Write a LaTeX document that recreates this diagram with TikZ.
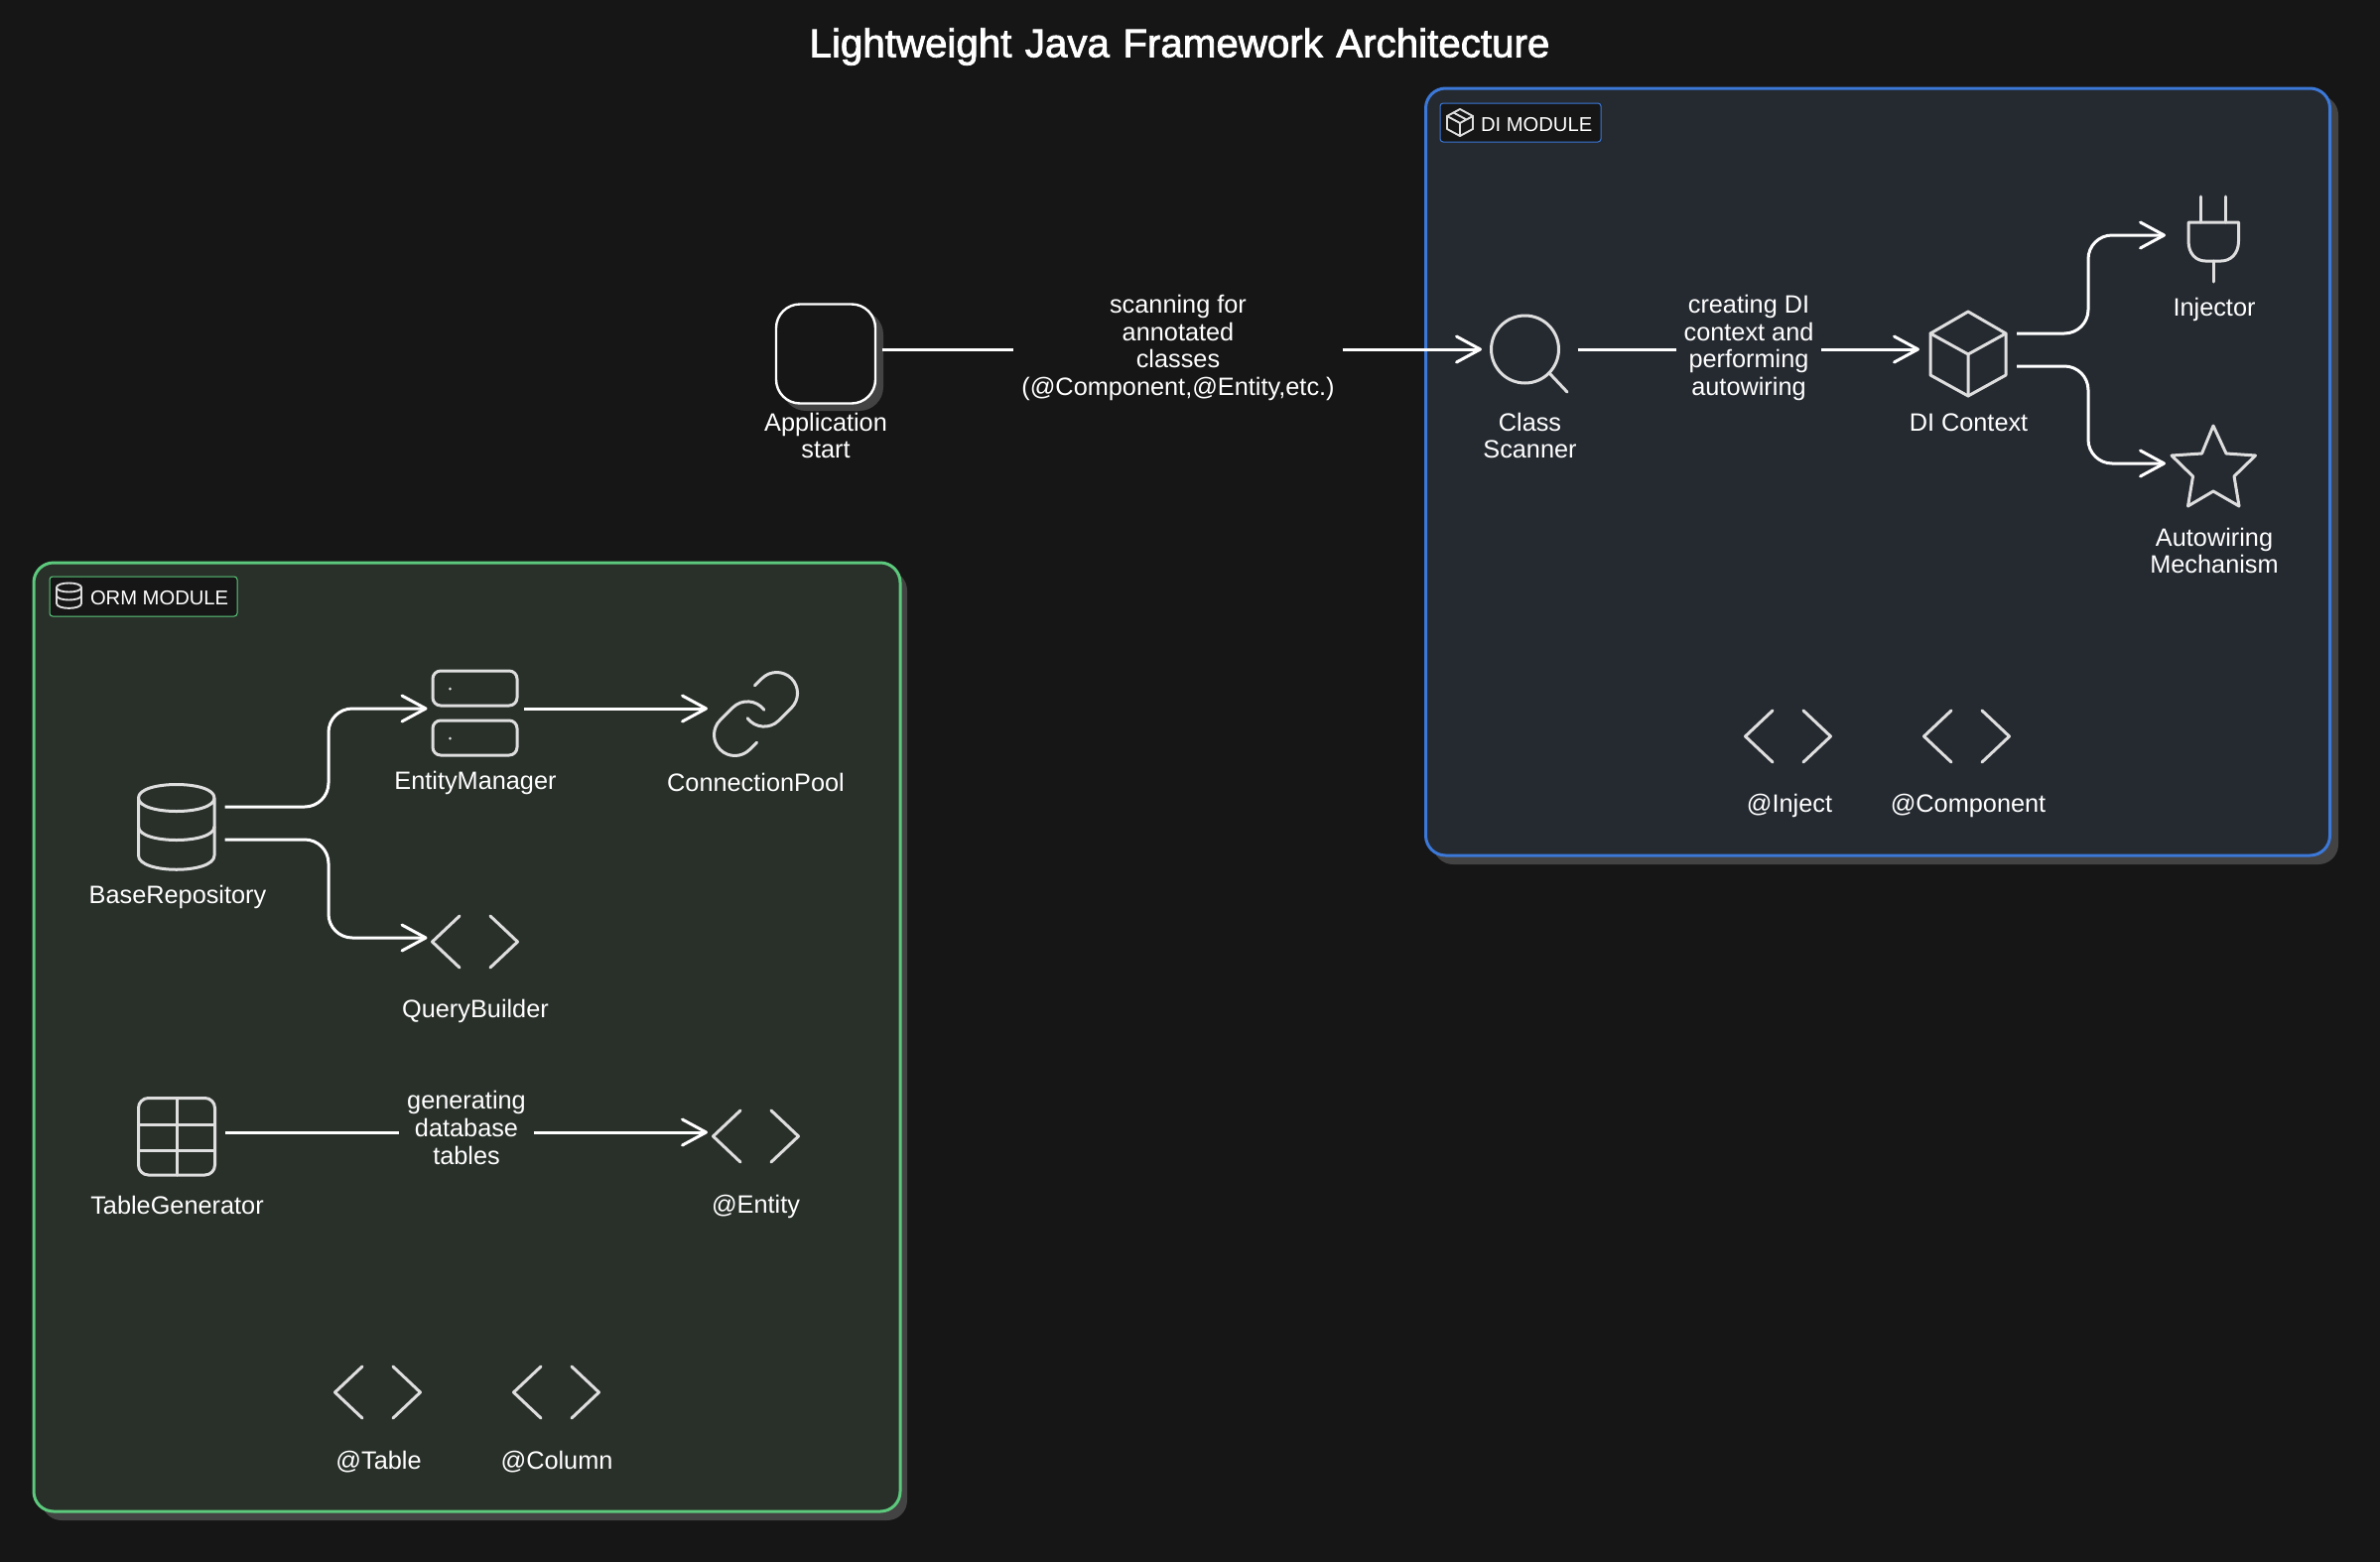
\documentclass[tikz,border=0pt]{standalone}
\usepackage{fontspec}
\setmainfont{Liberation Sans}
\newfontfamily\titlefont[FakeBold=2,WordSpace=1.2]{Liberation Sans}
\usetikzlibrary{arrows.meta}
\definecolor{bgc}{HTML}{161616}
\definecolor{shadowc}{HTML}{434343}
\definecolor{difill}{HTML}{252A31}
\definecolor{ormfill}{HTML}{29302A}
\definecolor{blueb}{HTML}{3B78D8}
\definecolor{greenb}{HTML}{5CC97C}
\definecolor{iconc}{HTML}{DEDEDE}
\tikzset{
  x=1pt,y=-1pt,
  every node/.style={inner sep=0pt,outer sep=0pt},
  txt/.style={text=white,align=center,font=\fontsize{25.3}{27.8}\selectfont},
  edgelab/.style={txt,inner xsep=8pt},
  titletxt/.style={text=white,font=\titlefont\fontsize{40.3}{46}\selectfont},
  grouptxt/.style={text=white,font=\fontsize{20.2}{24}\selectfont},
  iconbox/.style={minimum width=#1,minimum height=#1},
  icon/.style={draw=iconc,line width=3pt,line cap=round,line join=round},
  smallicon/.style={draw=iconc,line width=1.9pt,line cap=round,line join=round},
  conn/.style={draw=white,line width=3pt},
  arrowed/.style={conn,-{Straight Barb[length=24pt,width=26pt,line width=3pt,round]}},
  turn/.style={rounded corners=24pt},
  groupshadow/.style={fill=shadowc,rounded corners=20pt},
  groupbox/.style={line width=3pt,rounded corners=20pt},
  tag/.style={fill=bgc,line width=1pt,rounded corners=3pt},
}
\newcommand{\brackets}[3]{% name, x, y
  \node[iconbox=88pt] (#1) at (#2,#3) {};
  \draw[icon] (#2-15.5,#3-26) -- (#2-43,#3) -- (#2-15.5,#3+26);
  \draw[icon] (#2+15.5,#3-26) -- (#2+43,#3) -- (#2+15.5,#3+26);
}
\begin{document}
\begin{tikzpicture}
\fill[bgc] (0,0) rectangle (2398,1574);
\useasboundingbox (0,0) rectangle (2398,1574);

% group boxes
\fill[groupshadow] (1444,96) rectangle (2356,871);
\draw[groupbox,draw=blueb,fill=difill] (1436.5,89) rectangle (2347.5,862);
\fill[groupshadow] (42,575) rectangle (914,1532);
\draw[groupbox,draw=greenb,fill=ormfill] (34,567) rectangle (907,1523);

% group tags
\draw[tag,draw=blueb] (1451,104) rectangle (1613,143);
\node[grouptxt,anchor=base west] (ditag) at (1492,132) {DI MODULE};
\draw[smallicon] (1471,110) -- (1484,117) -- (1484,130) -- (1471,137) -- (1458,130) -- (1458,117) -- cycle;
\draw[smallicon] (1458,117) -- (1471,124) -- (1484,117) (1471,124) -- (1471,137) (1464.5,113.5) -- (1477.5,120.5);
\draw[tag,draw=greenb] (50,581) rectangle (239,621);
\node[grouptxt,anchor=base west] (ormtag) at (91,609) {ORM MODULE};
\draw[smallicon] (57,592) .. controls (57,586) and (82,586) .. (82,592) .. controls (82,598) and (57,598) .. (57,592) -- (57,608) .. controls (57,614.5) and (82,614.5) .. (82,608) -- (82,592);
\draw[smallicon] (57,600) .. controls (57,606) and (82,606) .. (82,600);

% title
\node[titletxt,anchor=base] (title) at (1188.5,57.5) {Lightweight Java Framework Architecture};

% application
\fill[shadowc,rounded corners=24pt] (788,313) rectangle (890,414);
\node[draw=white,fill=bgc,line width=2.4pt,rounded corners=24pt,minimum width=100pt,minimum height=100pt] (app) at (832,356.5) {};
\node[txt] (applab) at (832,439) {Application\\start};

% scanner
\node[iconbox=68pt] (scan) at (1536.5,352) {};
\draw[icon] (1536.5,352) circle[radius=34pt];
\draw[icon] (1562,377) -- (1579,395);
\node[txt] (scanlab) at (1541.5,439) {Class\\Scanner};

% DI context
\node[iconbox=76pt] (ctx) at (1983,357) {};
\draw[icon] (1983,314) -- (2021,336) -- (2021,378) -- (1983,399) -- (1945,378) -- (1945,336) -- cycle;
\draw[icon] (1945,336) -- (1983,357) -- (2021,336) (1983,357) -- (1983,399);
\node[txt] (ctxlab) at (1983.5,426) {DI Context};

% injector
\node[iconbox=50pt] (plug) at (2230,240) {};
\draw[icon] (2217.5,198) -- (2217.5,224) (2242.5,198) -- (2242.5,224);
\draw[icon] (2205,224) -- (2205,243) .. controls (2205,256) and (2213,263) .. (2222,263) -- (2238,263) .. controls (2247,263) and (2255.5,256) .. (2255.5,243) -- (2255.5,224) -- cycle;
\draw[icon] (2230,263) -- (2230,284);
\node[txt] (pluglab) at (2231,311.5) {Injector};

% autowiring
\node[iconbox=84pt] (star) at (2230,467) {};
\draw[icon] (2230,429) -- (2243,457) -- (2272.5,459) -- (2251,480) -- (2256,510) -- (2230,495) -- (2204.5,510) -- (2209.5,480) -- (2188,459) -- (2218.5,457) -- cycle;
\node[txt] (starlab) at (2231,555) {Autowiring\\Mechanism};

% DI annotations
\brackets{inject}{1801.5}{742}
\node[txt] (injectlab) at (1803,812) {@Inject};
\brackets{component}{1981.5}{742}
\node[txt] (componentlab) at (1983,812) {@Component};

% base repository
\node[iconbox=77pt] (repo) at (178,830) {};
\draw[icon] (139.5,804) .. controls (139.5,786) and (216,786) .. (216,804) .. controls (216,822) and (139.5,822) .. (139.5,804) -- (139.5,862) .. controls (139.5,881) and (216,881) .. (216,862) -- (216,804);
\draw[icon] (139.5,833) .. controls (139.5,851) and (216,851) .. (216,833);
\node[txt] (repolab) at (179,904) {BaseRepository};

% entity manager
\node[minimum width=86pt,minimum height=86pt] (em) at (478.5,718.5) {};
\draw[icon,rounded corners=8pt] (436,676) rectangle (521,711);
\draw[icon,rounded corners=8pt] (436,726) rectangle (521,761);
\fill[iconc] (453.5,694) circle[radius=1.5pt] (453.5,744) circle[radius=1.5pt];
\node[txt] (emlab) at (479,789) {EntityManager};

% connection pool
\node[iconbox=86pt] (pool) at (761.5,719) {};
\begin{scope}[shift={(761.5,719.5)},x=4.2pt,y=-4.2pt]
\draw[icon] (-2,1) .. controls (-0.18,3.43) and (3.39,3.69) .. (5.54,1.54) -- (8.54,-1.46) .. controls (10.49,-3.41) and (10.49,-6.59) .. (8.54,-8.54) .. controls (6.59,-10.49) and (3.42,-10.48) .. (1.47,-8.53) -- (-0.25,-6.82);
\draw[icon] (2,-1) .. controls (0.18,-3.43) and (-3.39,-3.69) .. (-5.54,-1.54) -- (-8.54,1.46) .. controls (-10.49,3.41) and (-10.49,6.59) .. (-8.54,8.54) .. controls (-6.59,10.49) and (-3.42,10.48) .. (-1.47,8.53) -- (0.24,6.82);
\end{scope}
\node[txt] (poollab) at (761.5,788.5) {ConnectionPool};

% query builder
\brackets{query}{478.5}{949}
\node[txt] (querylab) at (479,1019) {QueryBuilder};

% table generator
\node[minimum width=77pt,minimum height=78pt] (tablegen) at (178,1145) {};
\draw[icon,rounded corners=10pt] (139.5,1106.5) rectangle (216.5,1184);
\draw[icon] (139.5,1133) -- (216.5,1133) (139.5,1159) -- (216.5,1159) (178,1106.5) -- (178,1184);
\node[txt] (tablelab) at (178.5,1214) {TableGenerator};

% ORM annotations
\brackets{entity}{761.5}{1145}
\node[txt] (entitylab) at (761.5,1215.5) {@Entity};
\brackets{tableann}{380.5}{1403}
\node[txt] (tableannlab) at (381.5,1473) {@Table};
\brackets{column}{560.5}{1403}
\node[txt] (columnlab) at (561,1473) {@Column};

% edge labels
\node[edgelab] (e1) at (1187,350.5) {scanning for\\annotated\\classes\\(@Component,@Entity,etc.)};
\node[edgelab] (e2) at (1762,350.5) {creating DI\\context and\\performing\\autowiring};
\node[edgelab] (e3) at (470,1136.5) {generating\\database\\tables};

% connector ends
\coordinate (appout) at (889,352);
\coordinate (scanin) at (1493,352);
\coordinate (scanout) at (1589.5,352);
\coordinate (ctxin) at (1934,352);
\coordinate (ctxoutA) at (2032,336);
\coordinate (ctxoutB) at (2032,369);
\coordinate (plugin) at (2182,237);
\coordinate (starin) at (2182,467);
\coordinate (bendDI) at (2104,0);
\coordinate (repooutA) at (226.5,813);
\coordinate (repooutB) at (226.5,846);
\coordinate (emin) at (430.5,714);
\coordinate (queryin) at (430.5,945);
\coordinate (bendORM) at (331,0);
\coordinate (emout) at (528,714);
\coordinate (poolin) at (713,714);
\coordinate (tableout) at (227,1141);
\coordinate (entityin) at (713,1141);

% connectors
\draw[conn] (appout) -- (appout -| e1.west);
\draw[arrowed] (scanin -| e1.east) -- (scanin);
\draw[conn] (scanout) -- (scanout -| e2.west);
\draw[arrowed] (ctxin -| e2.east) -- (ctxin);
\draw[arrowed,turn] (ctxoutA) -- (ctxoutA -| bendDI) -- (plugin -| bendDI) -- (plugin);
\draw[arrowed,turn] (ctxoutB) -- (ctxoutB -| bendDI) -- (starin -| bendDI) -- (starin);
\draw[arrowed,turn] (repooutA) -- (repooutA -| bendORM) -- (emin -| bendORM) -- (emin);
\draw[arrowed,turn] (repooutB) -- (repooutB -| bendORM) -- (queryin -| bendORM) -- (queryin);
\draw[arrowed] (emout) -- (poolin);
\draw[conn] (tableout) -- (tableout -| e3.west);
\draw[arrowed] (entityin -| e3.east) -- (entityin);
\end{tikzpicture}
\end{document}
